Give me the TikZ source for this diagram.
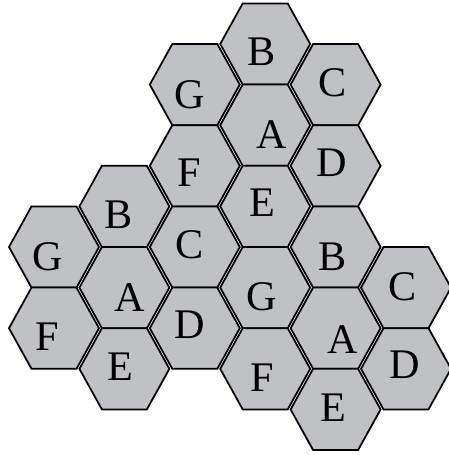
\documentclass[tikz,border=0pt]{standalone}
\usepackage{fontspec}
\setmainfont{Liberation Serif}
\usepackage{tikz}
\definecolor{hexFill}{RGB}{191,193,197}
\tikzset{
  hexcell/.style={draw=black, fill=hexFill, line width=1.5pt, line join=miter},
  hexlabel/.style={font=\fontsize{36}{36}\selectfont, inner sep=0pt},
}

\begin{document}
\begin{tikzpicture}[x=0.03cm, y=-0.03cm]
  \useasboundingbox (0,0) rectangle (448,455);
  % column / row / letter / letter position
  \foreach \c/\r/\l/\lx/\ly in {
      3/0/B/262/52, 2/1/G/190/95, 4/1/C/333/83, 3/2/A/272/135,
      2/3/F/189/173, 4/3/D/332/163, 3/4/E/262/203, 1/4/B/119/215,
      0/5/G/48/257, 2/5/C/190/245, 4/5/B/333/257, 1/6/A/130/298,
      3/6/G/262/297, 5/6/C/403/287, 0/7/F/47/337, 2/7/D/190/325,
      4/7/A/343/340, 1/8/E/120/367, 3/8/F/262/378, 5/8/D/405/365,
      4/9/E/333/408} {
    \pgfmathsetmacro{\cx}{54+70.4*\c}
    \pgfmathsetmacro{\cy}{44+40.6*\r}
    \draw[hexcell] (\cx-45,\cy) -- (\cx-22.5,\cy-40.6) -- (\cx+22.5,\cy-40.6)
      -- (\cx+45,\cy) -- (\cx+22.5,\cy+40.6) -- (\cx-22.5,\cy+40.6) -- cycle;
    \node[hexlabel] (cell-\c-\r) at (\lx,\ly) {\l};
  }
\end{tikzpicture}
\end{document}
